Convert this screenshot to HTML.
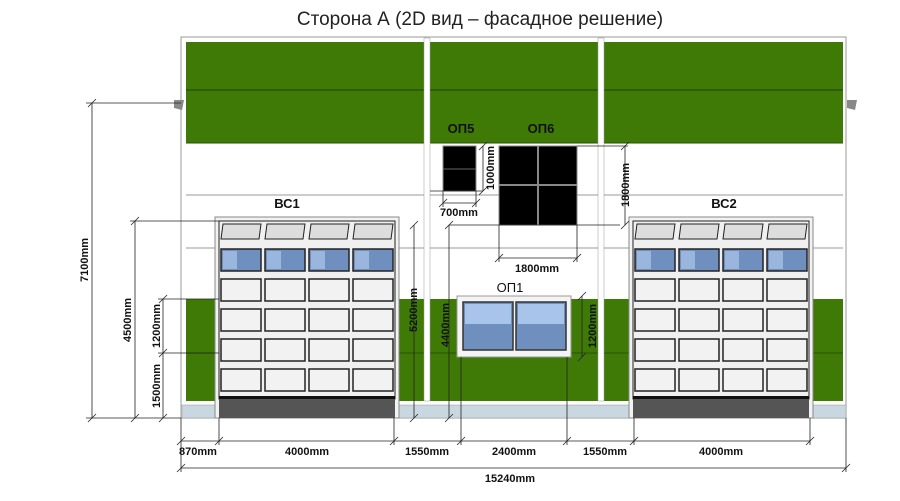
<!DOCTYPE html>
<html><head><meta charset="utf-8"><style>
html,body{margin:0;padding:0;background:#fff;}
svg{display:block;font-family:"Liberation Sans","Noto Sans CJK SC",sans-serif;}
.d{font-weight:bold;font-size:11px;fill:#111;}
</style></head><body>
<svg id="s" width="900" height="501" viewBox="0 0 900 501" xmlns="http://www.w3.org/2000/svg">
<text x="480" y="25" font-size="19" text-anchor="middle" fill="#222">Сторона А (2D вид – фасадное решение)</text>
<!-- building -->
<rect x="181" y="37" width="665" height="381" fill="#fff" stroke="#999" stroke-width="1"/>
<rect x="186" y="42" width="657" height="101" fill="#3f7a06"/>
<line x1="186" y1="90" x2="843" y2="90" stroke="#2a5204" stroke-width="1.5"/>
<line x1="186" y1="143" x2="843" y2="143" stroke="#2a5204" stroke-width="1"/>
<line x1="186" y1="195" x2="843" y2="195" stroke="#999" stroke-width="1"/>
<line x1="186" y1="248" x2="843" y2="248" stroke="#999" stroke-width="1"/>
<rect x="186" y="299" width="657" height="102" fill="#3f7a06"/>
<line x1="186" y1="353" x2="843" y2="353" stroke="#2a5204" stroke-width="1"/>
<rect x="182" y="405" width="664" height="13" fill="#c9d8e0" stroke="#999" stroke-width="0.5"/>
<!-- pilasters -->
<rect x="424" y="38" width="6" height="363" fill="#fff" stroke="#999" stroke-width="0.5"/>
<rect x="598" y="38" width="6" height="363" fill="#fff" stroke="#999" stroke-width="0.5"/>
<!-- gutters -->
<path d="M174 100 l10 0 l-2 10 l-8 -2z" fill="#888"/>
<path d="M847 100 l10 0 l-2 10 l-8 -2z" fill="#888"/>
<g id="gates"></g>
<!-- OP5 / OP6 -->
<text x="461" y="133" font-size="13" font-weight="bold" text-anchor="middle" fill="#111">ОП5</text>
<text x="541" y="133" font-size="13" font-weight="bold" text-anchor="middle" fill="#111">ОП6</text>
<rect x="443" y="146" width="33" height="45" fill="#000" stroke="#888"/>
<line x1="443" y1="169" x2="476" y2="169" stroke="#666"/>
<rect x="499" y="146" width="78" height="79" fill="#000" stroke="#888"/>
<line x1="538" y1="146" x2="538" y2="225" stroke="#888" stroke-width="2"/>
<line x1="499" y1="185" x2="577" y2="185" stroke="#888" stroke-width="2"/>
<!-- OP1 -->
<text x="510" y="292" font-size="13" text-anchor="middle" fill="#111">ОП1</text>
<rect x="457" y="296" width="114" height="61" fill="#f4f4f4" stroke="#999"/>
<rect x="463" y="302" width="50" height="48" fill="#6f8fbf" stroke="#333" stroke-width="1.5"/>
<rect x="516" y="302" width="50" height="48" fill="#6f8fbf" stroke="#333" stroke-width="1.5"/>
<rect x="465" y="304" width="46" height="20" fill="#a8c4ea"/>
<rect x="518" y="304" width="46" height="20" fill="#a8c4ea"/>
<text x="287" y="208" font-size="13" font-weight="bold" text-anchor="middle" fill="#111">ВС1</text>
<text x="724" y="208" font-size="13" font-weight="bold" text-anchor="middle" fill="#111">ВС2</text>
<g stroke="#222" stroke-width="0.8" fill="none" id="dims">
<!-- verticals -->
<line x1="92" y1="103" x2="92" y2="418"/><line x1="86" y1="103" x2="181" y2="103"/>
<line x1="135" y1="221" x2="135" y2="418"/><line x1="130" y1="221" x2="219" y2="221"/>
<line x1="163" y1="299" x2="163" y2="418"/><line x1="158" y1="299" x2="219" y2="299"/><line x1="158" y1="353" x2="219" y2="353"/>
<line x1="86" y1="418" x2="181" y2="418"/>
<line x1="414" y1="225" x2="414" y2="418"/>
<line x1="449" y1="225" x2="449" y2="418"/><line x1="449" y1="225" x2="620" y2="225"/>
<line x1="483" y1="146" x2="483" y2="191"/><line x1="430" y1="191" x2="483" y2="191"/>
<line x1="443" y1="203" x2="476" y2="203"/><line x1="443" y1="191" x2="443" y2="207"/><line x1="476" y1="191" x2="476" y2="207"/>
<line x1="499" y1="258" x2="577" y2="258"/><line x1="499" y1="225" x2="499" y2="262"/><line x1="577" y1="225" x2="577" y2="262"/>
<line x1="625" y1="146" x2="625" y2="225"/><line x1="577" y1="146" x2="628" y2="146"/>
<line x1="582" y1="296" x2="582" y2="357"/>
<!-- bottom -->
<line x1="181" y1="441" x2="810" y2="441"/>
<line x1="181" y1="468" x2="846" y2="468"/>
<line x1="181" y1="418" x2="181" y2="472"/><line x1="846" y1="418" x2="846" y2="472"/>
<line x1="219" y1="418" x2="219" y2="445"/><line x1="394" y1="418" x2="394" y2="445"/>
<line x1="461" y1="357" x2="461" y2="445"/><line x1="567" y1="357" x2="567" y2="445"/>
<line x1="634" y1="418" x2="634" y2="445"/><line x1="810" y1="418" x2="810" y2="445"/>
</g>
<g class="d">
<text x="198" y="455" text-anchor="middle">870mm</text>
<text x="307" y="455" text-anchor="middle">4000mm</text>
<text x="427" y="455" text-anchor="middle">1550mm</text>
<text x="514" y="455" text-anchor="middle">2400mm</text>
<text x="605" y="455" text-anchor="middle">1550mm</text>
<text x="721" y="455" text-anchor="middle">4000mm</text>
<text x="510" y="482" text-anchor="middle">15240mm</text>
<text x="459" y="216" text-anchor="middle">700mm</text>
<text x="537" y="272" text-anchor="middle">1800mm</text>
<text transform="translate(88,260) rotate(-90)" text-anchor="middle">7100mm</text>
<text transform="translate(131,320) rotate(-90)" text-anchor="middle">4500mm</text>
<text transform="translate(160,326) rotate(-90)" text-anchor="middle">1200mm</text>
<text transform="translate(160,386) rotate(-90)" text-anchor="middle">1500mm</text>
<text transform="translate(417,310) rotate(-90)" text-anchor="middle">5200mm</text>
<text transform="translate(449,325) rotate(-90)" text-anchor="middle">4400mm</text>
<text transform="translate(596,326) rotate(-90)" text-anchor="middle">1200mm</text>
<text transform="translate(494,168) rotate(-90)" text-anchor="middle">1000mm</text>
<text transform="translate(629,185) rotate(-90)" text-anchor="middle">1800mm</text>
</g>
</svg>
<script>
var g=document.getElementById('gates'),ns='http://www.w3.org/2000/svg',h='';
[215,629].forEach(function(x){
 h+='<rect x="'+x+'" y="217" width="184" height="201" fill="#f2f2f2" stroke="#888"/>';
 h+='<rect x="'+(x+4)+'" y="221" width="176" height="178" fill="#f0f0f0" stroke="#222" stroke-width="1"/>';
 for(var i=0;i<4;i++){var px=x+6+i*44;
  h+='<path d="M'+(px+2)+' 224 L'+(px+40)+' 224 L'+(px+38)+' 239 L'+px+' 239Z" fill="#ddd" stroke="#222" stroke-width="1"/>';
  h+='<rect x="'+px+'" y="249" width="40" height="22" fill="#6f8fbf" stroke="#222" stroke-width="1.5"/>';
  h+='<rect x="'+(px+2)+'" y="251" width="14" height="18" fill="#9bb6dc"/>';
  [279,309,339,369].forEach(function(y){h+='<rect x="'+px+'" y="'+y+'" width="40" height="22" fill="#f2f2f2" stroke="#222" stroke-width="1.5"/>';});
 }
 h+='<rect x="'+(x+4)+'" y="396" width="176" height="22" fill="#555"/>';
 h+='<rect x="'+(x+4)+'" y="396" width="176" height="3" fill="#111"/>';
});
g.innerHTML=h;
var d=document.getElementById('dims'),t='';
[[92,103],[92,418],[135,221],[135,418],[163,299],[163,353],[163,418],[414,225],[414,418],[449,225],[449,418],[483,146],[483,191],[443,203],[476,203],[499,258],[577,258],[625,146],[625,225],[582,296],[582,357],[181,441],[219,441],[394,441],[461,441],[567,441],[634,441],[810,441],[181,468],[846,468]].forEach(function(p){t+='<line x1="'+(p[0]-4)+'" y1="'+(p[1]+4)+'" x2="'+(p[0]+4)+'" y2="'+(p[1]-4)+'"/>';});
d.insertAdjacentHTML('beforeend',t);
</script>
</body></html>
